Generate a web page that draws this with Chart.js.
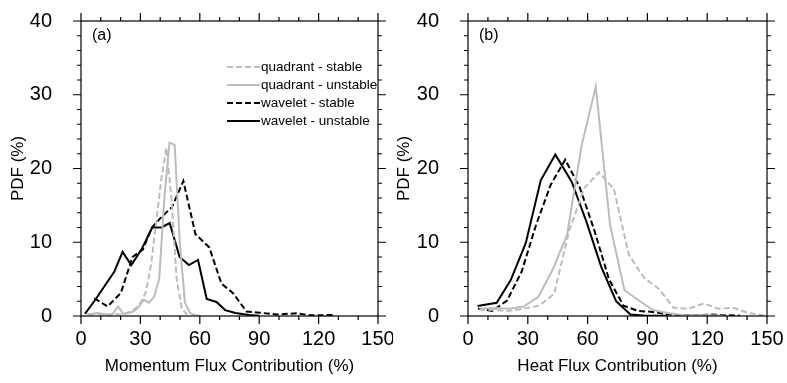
<!DOCTYPE html>
<html>
<head>
<meta charset="utf-8">
<script src="https://cdn.jsdelivr.net/npm/chart.js@4.4.0/dist/chart.umd.min.js"></script>
<style>
  html, body { margin: 0; padding: 0; background: #fff; }
  #wrap { position: relative; width: 787px; height: 383px; }
  .panel { position: absolute; top: 0; height: 383px; }
</style>
</head>
<body>
<div id="wrap">
  <div class="panel" style="left:0;width:393px"><canvas id="chartA"></canvas></div>
  <div class="panel" style="left:393px;width:394px"><canvas id="chartB"></canvas></div>
</div>
<script>
// ticks
const xMajorTicks = [0, 30, 60, 90, 120, 150];
const yMajorTicks = [0, 10, 20, 30, 40];
const xMinorStep = 10;
const yMinorStep = 2;

const seriesNames = ['quadrant - stable', 'quadrant - unstable', 'wavelet - stable', 'wavelet - unstable'];

// (a) momentum flux contribution, [x %, pdf %]
const momQuadStable = [[4.1,0.1],[6.7,0.3],[9.3,0.2],[11.9,0.2],[14.5,0.1],[17.1,0.3],[19.7,0.2],[22.3,0.3],[24.9,0.6],[27.5,1.0],[30.1,1.8],[32.7,3.2],[35.3,6.8],[37.9,12.5],[40.5,18.5],[43.1,22.8],[45.7,16],[48.3,5],[50.9,1.0],[53.5,0.2]];
const momQuadUnstable = [[3.1,0.2],[5.7,0.3],[8.3,0.4],[10.9,0.3],[13.5,0.2],[16.1,0.3],[18.7,1.3],[21.3,0.3],[23.9,0.4],[26.5,0.6],[29.1,1.2],[31.7,2.2],[34.3,1.8],[36.9,2.6],[39.5,5.0],[42.1,16.0],[44.7,23.5],[47.3,23.2],[49.9,10.0],[52.5,1.8],[55.1,0.4],[57.7,0.1],[60.3,0.05]];
const momWavStable = [[6.7,2.4],[13.4,1.3],[20.1,3.1],[26,8.0],[31.2,9.0],[35.8,12.0],[40.6,13.4],[46,14.8],[51.7,18.3],[57.8,11.1],[64.8,9.3],[70.9,4.4],[76.8,3.1],[83.6,0.6],[90.3,0.45],[98.7,0.2],[108.9,0.37],[115.6,0.1],[121,0.1],[127.4,0.15]];
const momWavUnstable = [[2,0.3],[7.5,2.3],[12,4.1],[16.8,6.0],[21,8.7],[25.4,6.9],[30.5,9.0],[36,12],[40.6,12],[44.8,12.6],[49.8,8.0],[54.5,6.9],[59.1,7.6],[63.5,2.3],[68.4,1.9],[72.8,0.8],[78,0.4],[85,0.15],[90,0.05]];

// (b) heat flux contribution
const heatQuadStable = [[5.7,0.9],[13.2,0.8],[20.7,0.7],[28.2,1.0],[35.7,1.4],[43.2,3.0],[50.7,11.5],[58.2,17.3],[65.7,19.5],[73.2,17.2],[80.7,8.3],[88.2,5.2],[95.7,3.7],[103.2,1.1],[110.7,1.0],[118.2,1.7],[125.7,1.0],[133.2,1.1],[140.7,0.4],[148.2,0.1]];
const heatQuadUnstable = [[6.5,1.0],[13.7,1.1],[20.9,1.0],[28.1,1.3],[35.3,2.6],[42.5,6.3],[49.7,11.0],[56.9,23.0],[64.1,31.1],[71.3,12.3],[78.5,3.5],[85.7,2.1],[92.9,0.8],[100.1,0.4],[107.3,0.15],[114.5,0.1],[121.7,0.1],[128.9,0.05]];
const heatWavStable = [[5,1.0],[12.3,0.7],[19.6,2.1],[26.9,6.0],[34.2,12.4],[41.5,17.8],[48.8,21.2],[56.1,17.4],[63.4,11.6],[70.7,5.0],[78,1.4],[85.3,0.7],[92.6,0.55],[99.9,0.25],[107.2,0.1],[114.5,0.1],[121.8,0.2],[129.1,0.1],[136.4,0.05]];
const heatWavUnstable = [[4.8,1.35],[14.4,1.8],[21.5,4.9],[29,9.9],[36.5,18.4],[43.8,21.9],[52,18.2],[59.4,12.8],[66.8,6.7],[74.3,2.0],[81.5,0.2],[89,0.05],[100,0.02]];

const FONT = '"Liberation Sans", Arial, Helvetica, sans-serif';
const GREY = '#bcbcbc';

function toXY(pairs) {
  return pairs.map(p => ({ x: p[0], y: p[1] }));
}

function makeSets(qs, qu, ws, wu) {
  const styles = [
    { c: GREY, d: [6, 3] },
    { c: GREY, d: [] },
    { c: '#000', d: [6, 3] },
    { c: '#000', d: [] }
  ];
  return [qs, qu, ws, wu].map((s, i) => ({
    label: seriesNames[i],
    data: toXY(s),
    borderColor: styles[i].c,
    borderDash: styles[i].d,
    borderWidth: 2,
    pointRadius: 0,
    tension: 0,
    fill: false
  }));
}

// frame box + outward major/minor ticks on all four sides
const boxTicks = {
  id: 'boxTicks',
  afterDraw(chart) {
    const { ctx, chartArea: a, scales: { x, y } } = chart;
    ctx.save();
    ctx.strokeStyle = '#000';
    ctx.lineWidth = 1.2;
    ctx.strokeRect(a.left, a.top, a.right - a.left, a.bottom - a.top);
    ctx.beginPath();
    for (let v = x.min; v <= x.max; v += xMinorStep) {
      const px = x.getPixelForValue(v);
      const len = xMajorTicks.includes(v) ? 8 : 4;
      ctx.moveTo(px, a.bottom); ctx.lineTo(px, a.bottom + len);
      ctx.moveTo(px, a.top); ctx.lineTo(px, a.top - len);
    }
    for (let v = y.min; v <= y.max; v += yMinorStep) {
      const py = y.getPixelForValue(v);
      const len = yMajorTicks.includes(v) ? 8 : 4;
      ctx.moveTo(a.left, py); ctx.lineTo(a.left - len, py);
      ctx.moveTo(a.right, py); ctx.lineTo(a.right + len, py);
    }
    ctx.stroke();

    const o = chart.options.plugins.boxTicks;
    ctx.fillStyle = '#000';
    ctx.font = '16px ' + FONT;
    ctx.textBaseline = 'middle';
    ctx.fillText(o.tag, a.left + o.tagDx, 36);

    // legend, panel (a) only
    if (o.legend) {
      ctx.font = '13.5px ' + FONT;
      chart.data.datasets.forEach((ds, i) => {
        const ly = o.legend.y + i * o.legend.gap;
        ctx.strokeStyle = ds.borderColor;
        ctx.lineWidth = 2;
        ctx.setLineDash(ds.borderDash);
        ctx.beginPath();
        ctx.moveTo(o.legend.x, ly);
        ctx.lineTo(o.legend.x + 33, ly);
        ctx.stroke();
        ctx.setLineDash([]);
        ctx.fillText(ds.label, o.legend.x + 34, ly);
      });
    }
    ctx.restore();
  }
};

function makeChart(id, datasets, xTitle, tag, yWidth, rightPad, yTitlePad, legend) {
  return new Chart(document.getElementById(id), {
    type: 'line',
    data: { datasets },
    plugins: [boxTicks],
    options: {
      responsive: true,
      maintainAspectRatio: false,
      animation: false,
      layout: { padding: { left: 0, right: rightPad, top: 21, bottom: 0 } },
      plugins: {
        legend: { display: false },
        tooltip: { enabled: false },
        boxTicks: { tag, tagDx: 11, legend }
      },
      scales: {
        x: {
          type: 'linear',
          min: 0,
          max: 150,
          afterBuildTicks: s => { s.ticks = xMajorTicks.map(v => ({ value: v })); },
          afterFit: s => { s.height = 67; s.paddingLeft = 0; s.paddingRight = 0; },
          grid: { display: false },
          border: { display: false },
          ticks: { color: '#000', padding: 3, maxRotation: 0, font: { family: FONT, size: 20 } },
          title: { display: true, text: xTitle, color: '#000', padding: { top: 0, bottom: 6 }, font: { family: FONT, size: 17 } }
        },
        y: {
          min: 0,
          max: 40,
          afterBuildTicks: s => { s.ticks = yMajorTicks.map(v => ({ value: v })); },
          afterFit: s => { s.width = yWidth; s.paddingTop = 0; s.paddingBottom = 0; },
          grid: { display: false },
          border: { display: false },
          ticks: { color: '#000', padding: 21, font: { family: FONT, size: 20 } },
          title: { display: true, text: 'PDF (%)', color: '#000', padding: { top: yTitlePad, bottom: 0 }, font: { family: FONT, size: 17 } }
        }
      }
    }
  });
}

makeChart('chartA', makeSets(momQuadStable, momQuadUnstable, momWavStable, momWavUnstable),
  'Momentum Flux Contribution (%)', '(a)', 81, 15, 8, { x: 227, y: 67, gap: 18 });
makeChart('chartB', makeSets(heatQuadStable, heatQuadUnstable, heatWavStable, heatWavUnstable),
  'Heat Flux Contribution (%)', '(b)', 75, 20, 1, null);
</script>
</body>
</html>
